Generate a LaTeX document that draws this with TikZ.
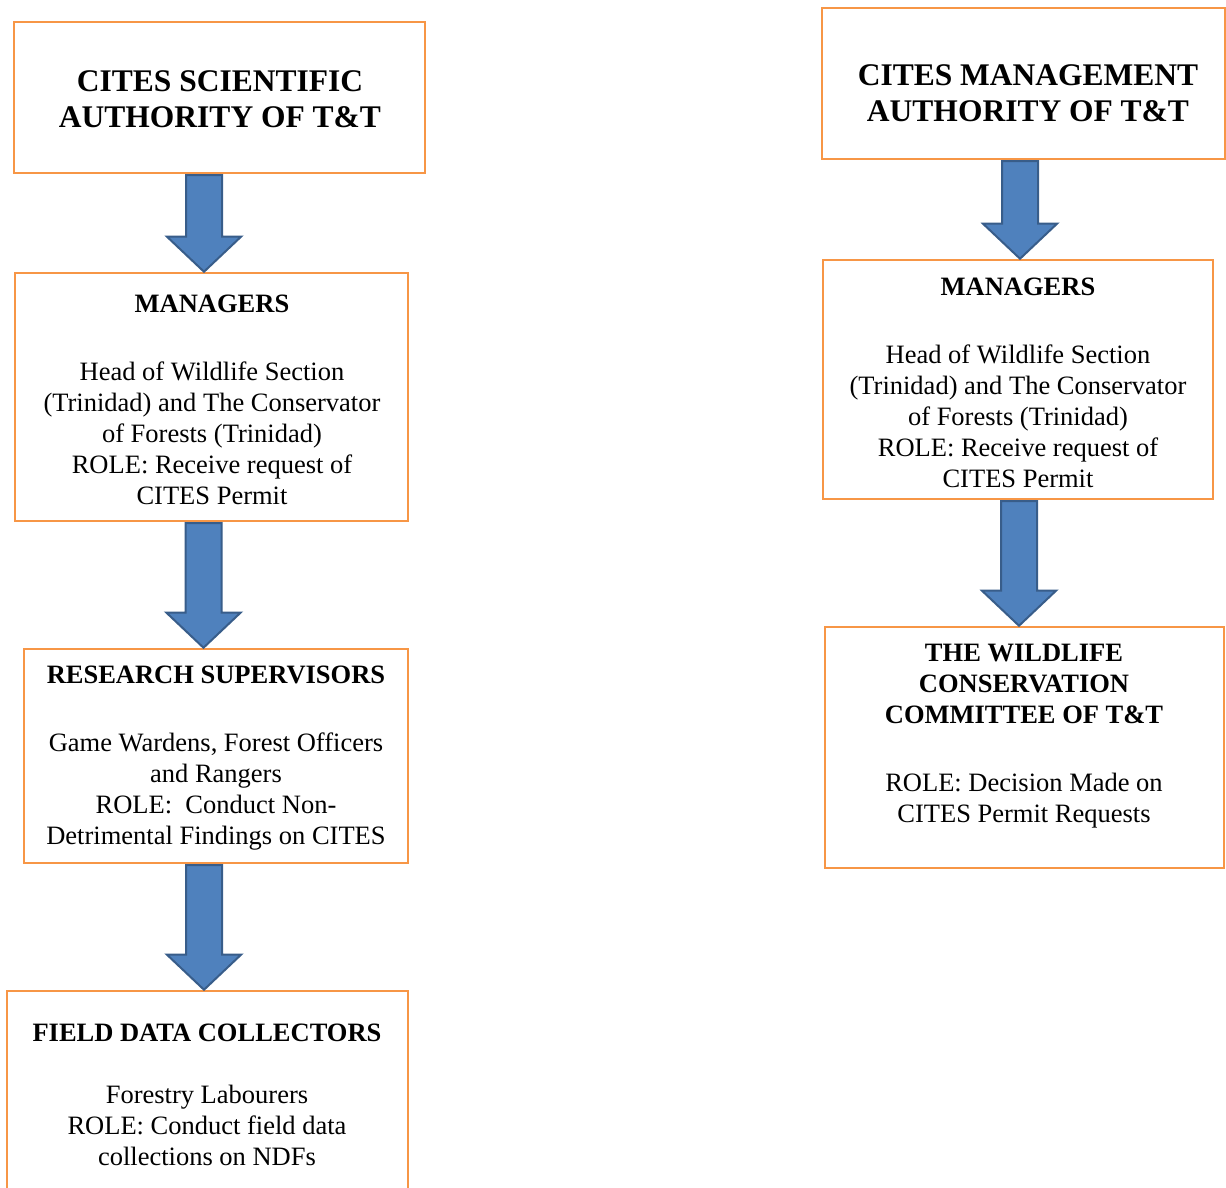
\documentclass[tikz,border=0pt]{standalone}
\usepackage{fontspec}
\setmainfont{Liberation Serif}
\usetikzlibrary{calc}
\definecolor{boxline}{HTML}{F79646}
\definecolor{arrowfill}{HTML}{4F81BD}
\definecolor{arrowline}{HTML}{385D8A}

% block arrow from the lower edge of one box to the top of the next
\newcommand{\blockarrow}[3]{%
  \draw[blockarrow] let \p1=(#1.south), \p2=(#2.north) in
    (#3-18,\y1-1pt) -- (#3+18,\y1-1pt) -- (#3+18,\y2+35pt) -- (#3+37,\y2+35pt)
    -- (#3,\y2) -- (#3-37,\y2+35pt) -- (#3-18,\y2+35pt) -- cycle;}

\begin{document}
\begin{tikzpicture}[x=1pt, y=1pt,
  box/.style={draw=boxline, line width=2.5pt, rectangle, inner sep=0pt},
  headtext/.style={align=center, inner sep=0pt, font=\fontsize{31.5}{36}\selectfont\bfseries},
  bodytext/.style={align=center, inner sep=0pt, font=\fontsize{26.5}{31}\selectfont},
  blockarrow/.style={fill=arrowfill, draw=arrowline, line width=2pt, line join=miter}]

\clip (0,0) rectangle (1226,1188);
\fill[white] (0,0) rectangle (1226,1188);

% left column
\node[box, minimum width=411pt, minimum height=151pt] (sci) at (219.5,1090.5) {};
\node[box, minimum width=393pt, minimum height=248pt] (sciman) at (211.5,791) {};
\node[box, minimum width=384pt, minimum height=214pt] (research) at (216,432) {};
\node[box, minimum width=401pt, minimum height=229pt] (field) at (207.5,82.5) {};

\node[headtext] (scitext) at (220,1088.5) {CITES SCIENTIFIC\\AUTHORITY OF T\&T};
\node[bodytext] (scimantext) at (212,788) {\textbf{MANAGERS}\\[37pt]
  Head of Wildlife Section\\(Trinidad) and The Conservator\\of Forests (Trinidad)\\
  ROLE: Receive request of\\CITES Permit};
\node[bodytext] (researchtext) at (216,430) {\textbf{RESEARCH SUPERVISORS}\\[37pt]
  Game Wardens, Forest Officers\\and Rangers\\ROLE:~~Conduct Non-\\
  Detrimental Findings on CITES};
\node[bodytext] (fieldtext) at (207,93) {\textbf{FIELD DATA COLLECTORS}\\[31pt]
  Forestry Labourers\\ROLE: Conduct field data\\collections on NDFs};

% right column
\node[box, minimum width=403pt, minimum height=151pt] (mgmt) at (1023.5,1104.5) {};
\node[box, minimum width=390pt, minimum height=239pt] (mgmtman) at (1018,808.5) {};
\node[box, minimum width=399pt, minimum height=241pt] (committee) at (1024.5,440.5) {};

\node[headtext] (mgmttext) at (1028,1094.5) {CITES MANAGEMENT\\AUTHORITY OF T\&T};
\node[bodytext] (mgmtmantext) at (1018,805) {\textbf{MANAGERS}\\[37pt]
  Head of Wildlife Section\\(Trinidad) and The Conservator\\of Forests (Trinidad)\\
  ROLE: Receive request of\\CITES Permit};
\node[bodytext] (committeetext) at (1024,452) {\textbf{THE WILDLIFE}\\
  \textbf{CONSERVATION}\\\textbf{COMMITTEE OF T\&T}\\[37pt]
  ROLE: Decision Made on\\CITES Permit Requests};

% arrows
\blockarrow{sci}{sciman}{204}
\blockarrow{sciman}{research}{203.5}
\blockarrow{research}{field}{204}
\blockarrow{mgmt}{mgmtman}{1020}
\blockarrow{mgmtman}{committee}{1019}

\end{tikzpicture}
\end{document}
